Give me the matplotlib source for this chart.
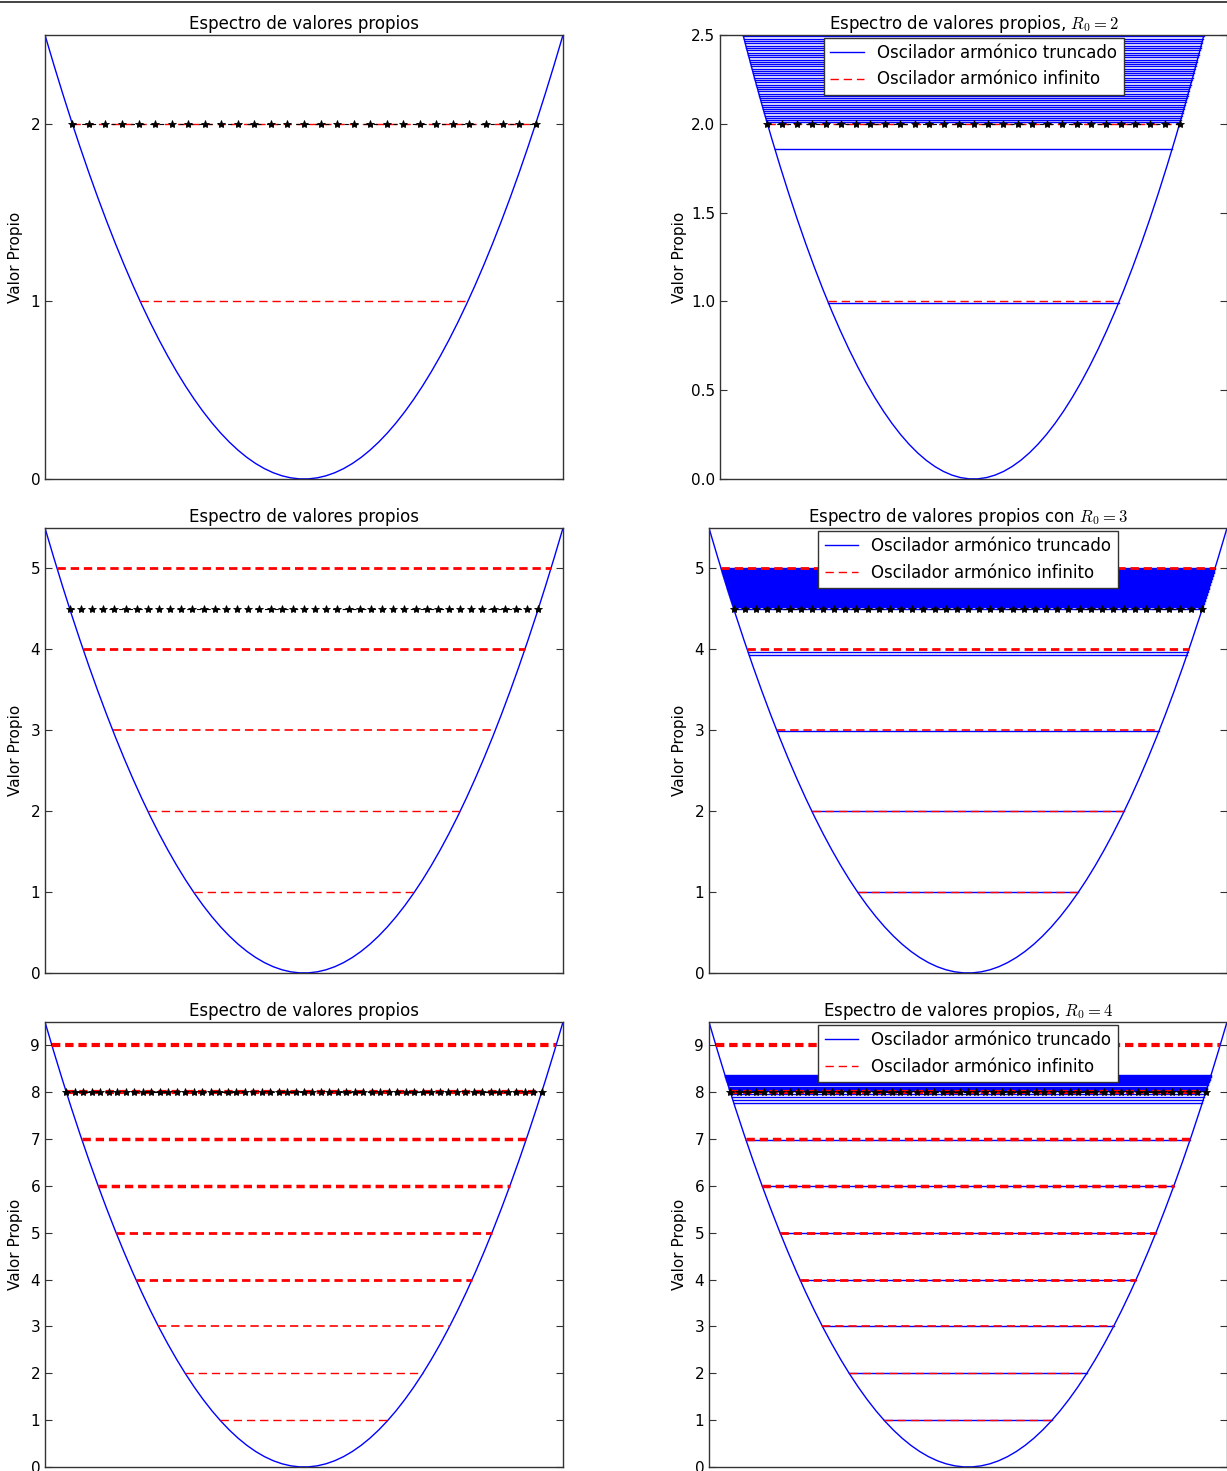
import numpy as np
import matplotlib
matplotlib.use('Agg')
import matplotlib.pyplot as plt
from matplotlib.lines import Line2D

plt.rcParams['mathtext.fontset'] = 'cm'
plt.rcParams['lines.scale_dashes'] = False

# radios de truncamiento y limites verticales de cada fila
R0s = [2, 3, 4]
ytops = [2.5, 5.5, 9.5]
yticks_left = [[0, 1, 2], [0, 1, 2, 3, 4, 5], list(range(10))]
yticks_right = [[0.0, 0.5, 1.0, 1.5, 2.0, 2.5], [0, 1, 2, 3, 4, 5], list(range(10))]
right_xmax = [2.46, None, None]
right_left_px = [720, 709, 709]
right_titles = ['Espectro de valores propios, $R_0=2$',
                'Espectro de valores propios con $R_0=3$',
                'Espectro de valores propios, $R_0=4$']

# niveles del oscilador infinito y grosor aparente (degeneracion)
infinite_levels = [[1, 2], [1, 2, 3, 4, 5], [1, 2, 3, 4, 5, 6, 7, 8, 9]]
level_lw = {1: 1.0, 2: 1.0, 3: 1.2, 4: 2.0, 5: 2.0, 6: 2.5, 7: 2.5, 8: 3.0, 9: 3.0}

# valores propios del oscilador truncado
trunc_R2 = [0.99, 1.86,
            2.010, 2.022, 2.035, 2.046, 2.058, 2.071, 2.083, 2.095, 2.108, 2.120,
            2.133, 2.145, 2.158, 2.170, 2.183, 2.196, 2.208, 2.221, 2.234, 2.246,
            2.259, 2.272, 2.285, 2.297, 2.310, 2.323, 2.336, 2.349, 2.362, 2.375,
            2.388, 2.401, 2.414, 2.427, 2.440, 2.453, 2.466, 2.479, 2.492, 2.505]
trunc_R3 = [1.0, 2.0, 2.99, 3.97, 3.93,
            4.505, 4.518, 4.530, 4.543, 4.555, 4.568, 4.580, 4.593, 4.605, 4.618,
            4.630, 4.643, 4.655, 4.668, 4.680, 4.693, 4.705, 4.718, 4.730, 4.743,
            4.755, 4.768, 4.780, 4.793, 4.805, 4.818, 4.830, 4.843, 4.855, 4.868,
            4.880, 4.893, 4.905, 4.918, 4.930, 4.943, 4.955, 4.968, 4.980, 4.993, 5.000]
trunc_R4 = [1.0, 2.0, 3.0, 4.0, 5.0, 6.0, 6.99, 7.78, 7.83, 7.89, 7.96,
            8.02, 8.04, 8.06, 8.08, 8.10, 8.12, 8.15, 8.17, 8.19, 8.21, 8.23,
            8.25, 8.27, 8.29, 8.31, 8.33, 8.35, 8.37]
truncated = [trunc_R2, trunc_R3, trunc_R4]

# numero de estrellas en la linea R0^2/2
star_counts = [29, 43, 57]

fig = plt.figure(figsize=(12.27, 14.71), dpi=100)
W, H = 1227.0, 1471.0
row_bounds = [(35, 479), (528, 973), (1022, 1467)]
DASH = (6, 3.5)


def style_axes(ax, ytop, ticks, width_px):
    ax.set_ylim(0, ytop)
    ax.set_yticks(ticks)
    ax.set_xticks([])
    ax.tick_params(axis='y', direction='in', length=5, right=True, labelsize=11, color='#333333')
    for s in ax.spines.values():
        s.set_color('#333333')
        s.set_linewidth(1.0)
    ax.set_ylabel('Valor Propio', fontsize=11)
    return ax


def hline(ax, E, **kw):
    xe = np.sqrt(2 * E)
    ax.plot([-xe, xe], [E, E], **kw)


def star_line(ax, xstar, ystar):
    ax.plot(xstar, np.full_like(xstar, ystar), 'k--', lw=0.8, dashes=(3, 4))
    ax.plot(xstar, np.full_like(xstar, ystar), 'k*', ms=6, mew=0.6)


for i, R0 in enumerate(R0s):
    top, bot = row_bounds[i]
    b = 1 - bot / H
    h = (bot - top) / H
    ytop = ytops[i]
    xmax = np.sqrt(2 * ytop)
    xs = np.linspace(-xmax, xmax, 60)
    ystar = R0 ** 2 / 2.0
    xstar = np.linspace(-R0, R0, star_counts[i])

    # panel izquierdo
    axl = fig.add_axes([45 / W, b, 518 / W, h])
    axl.plot(xs, xs ** 2 / 2, color='b', lw=1)
    for n in infinite_levels[i]:
        hline(axl, n, color='r', lw=level_lw[n], linestyle='--', dashes=DASH)
    star_line(axl, xstar, ystar)
    axl.set_xlim(-xmax, xmax)
    style_axes(axl, ytop, yticks_left[i], 518)
    axl.yaxis.set_label_coords((23 - 45) / 518.0, 0.5)
    axl.set_title('Espectro de valores propios', fontsize=12, pad=4)

    # panel derecho
    lpx = right_left_px[i]
    wpx = 1227 - lpx
    axr = fig.add_axes([lpx / W, b, wpx / W, h])
    xm = right_xmax[i] if right_xmax[i] else xmax
    xs_r = np.linspace(-xm, xm, 60)
    axr.plot(xs_r, xs_r ** 2 / 2, color='b', lw=1)
    for E in truncated[i]:
        hline(axr, E, color='b', lw=1)
    for n in infinite_levels[i]:
        hline(axr, n, color='r', lw=level_lw[n], linestyle='--', dashes=DASH)
    star_line(axr, xstar, ystar)
    axr.set_xlim(-xm, xm)
    style_axes(axr, ytop, yticks_right[i], wpx)
    axr.yaxis.set_label_coords((687.0 - lpx) / wpx, 0.5)
    if i == 0:
        axr.set_yticklabels(['%.1f' % t for t in yticks_right[i]])
    axr.set_title(right_titles[i], fontsize=12, pad=4)
    handles = [Line2D([], [], color='b', lw=1),
               Line2D([], [], color='r', lw=1, linestyle='--', dashes=DASH)]
    leg = axr.legend(handles, ['Oscilador armónico truncado', 'Oscilador armónico infinito'],
                     loc='upper center', fontsize=12, borderaxespad=0.15, fancybox=False,
                     framealpha=1, edgecolor='#333333', handlelength=2.0)
    leg.get_frame().set_linewidth(1.0)

# linea del borde superior de la captura
fig.add_artist(Line2D([0, 1], [1 - 1.5 / H, 1 - 1.5 / H], transform=fig.transFigure,
                      color='#222222', lw=1.2))

fig.savefig('out.png', dpi=100)
